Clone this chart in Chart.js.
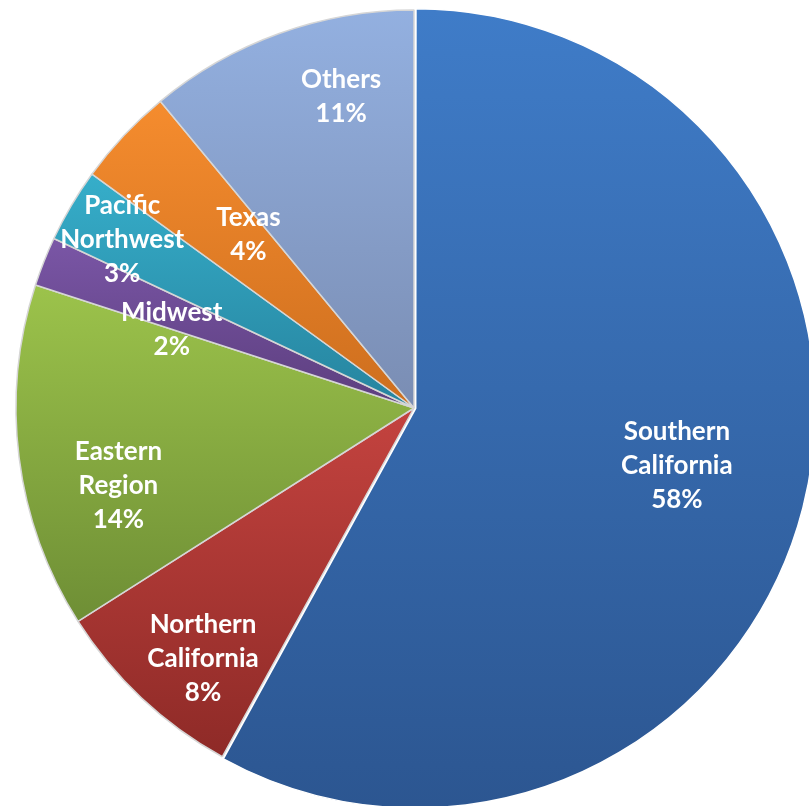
<!DOCTYPE html>
<html>
<head>
<meta charset="utf-8">
<script src="https://cdn.jsdelivr.net/npm/chart.js@4/dist/chart.umd.min.js"></script>
<style>
  html, body { margin: 0; padding: 0; background: #fff; overflow: hidden; width: 809px; height: 806px; }
  #wrap { position: absolute; left: 4px; top: -2px; width: 820px; height: 820px; }
</style>
</head>
<body>
<div id="wrap"><canvas id="pie"></canvas></div>
<script>
const regions = ["Southern California", "Northern California", "Eastern Region", "Midwest", "Pacific Northwest", "Texas", "Others"];
const shares = [58, 8, 14, 2, 3, 4, 11];

// slice shading, light (top of slice) -> dark (bottom of slice)
const lightColors = ["#3f7cc8", "#c4433f", "#9cc34b", "#7a56a6", "#36aeca", "#f58c2e", "#93b0e0"];
const darkColors  = ["#2c5691", "#8e2a27", "#6e8e35", "#5c3e7e", "#26839e", "#cd6e1e", "#7a8db3"];

// where each label sits: fraction across the slice angle, fraction of radius
const labelAngleFrac = [0.49, 0.39, 0.35, 0.0, 0.45, 0.72, 0.667];
const labelRadiusFrac = [0.676, 0.824, 0.768, 0.64, 0.847, 0.603, 0.803];
const labelLines = [
  ["Southern", "California"], ["Northern", "California"], ["Eastern", "Region"],
  ["Midwest"], ["Pacific", "Northwest"], ["Texas"], ["Others"]
];

const RADIUS = 398;
const total = shares.reduce((a, b) => a + b, 0);

function sliceFill(ctx) {
  const i = ctx.dataIndex;
  const area = ctx.chart.chartArea;
  if (!area) return lightColors[i];
  const cx = (area.left + area.right) / 2;
  const cy = (area.top + area.bottom) / 2;
  const before = shares.slice(0, i).reduce((a, b) => a + b, 0);
  const a0 = -Math.PI / 2 + 2 * Math.PI * before / total;
  const a1 = a0 + 2 * Math.PI * shares[i] / total;
  const ys = [cy, cy + Math.sin(a0) * RADIUS, cy + Math.sin(a1) * RADIUS];
  const has = (a) => {
    for (let k = -1; k <= 2; k++) {
      const t = a + k * 2 * Math.PI;
      if (t >= a0 && t <= a1) return true;
    }
    return false;
  };
  if (has(Math.PI / 2)) ys.push(cy + RADIUS);
  if (has(-Math.PI / 2)) ys.push(cy - RADIUS);
  const y0 = Math.min(...ys), y1 = Math.max(...ys);
  const g = ctx.chart.ctx.createLinearGradient(0, y0, 0, y1 + 1);
  g.addColorStop(0, lightColors[i]);
  g.addColorStop(1, darkColors[i]);
  return g;
}

const sliceLabels = {
  id: "sliceLabels",
  afterDatasetsDraw(chart) {
    const c = chart.ctx;
    const meta = chart.getDatasetMeta(0);
    c.save();
    c.fillStyle = "#ffffff";
    c.font = "bold 26px Lato, 'Open Sans', sans-serif";
    c.textAlign = "center";
    c.textBaseline = "middle";
    meta.data.forEach((arc, i) => {
      const p = arc.getProps(["x", "y", "startAngle", "endAngle", "outerRadius"], true);
      const ang = p.startAngle + labelAngleFrac[i] * (p.endAngle - p.startAngle);
      const r = labelRadiusFrac[i] * p.outerRadius;
      const px = p.x + Math.cos(ang) * r;
      const py = p.y + Math.sin(ang) * r;
      const lines = labelLines[i].concat([shares[i] + "%"]);
      const lh = 34;
      const top = py - (lines.length - 1) * lh / 2;
      lines.forEach((t, k) => c.fillText(t, px, top + k * lh));
    });
    c.restore();
  }
};

new Chart(document.getElementById("pie"), {
  type: "pie",
  data: {
    labels: regions,
    datasets: [{
      data: shares,
      backgroundColor: sliceFill,
      borderColor: ["#ffffff", "#d6d6d6", "#d6d6d6", "#d6d6d6", "#d6d6d6", "#d6d6d6", "#d6d6d6"],
      borderWidth: 1.5,
      offset: [7, 0, 0, 0, 0, 0, 0],
    }],
  },
  options: {
    responsive: true,
    maintainAspectRatio: false,
    animation: false,
    radius: RADIUS,
    layout: { padding: 0 },
    plugins: { legend: { display: false }, tooltip: { enabled: false } },
  },
  plugins: [sliceLabels],
});
</script>
</body>
</html>
